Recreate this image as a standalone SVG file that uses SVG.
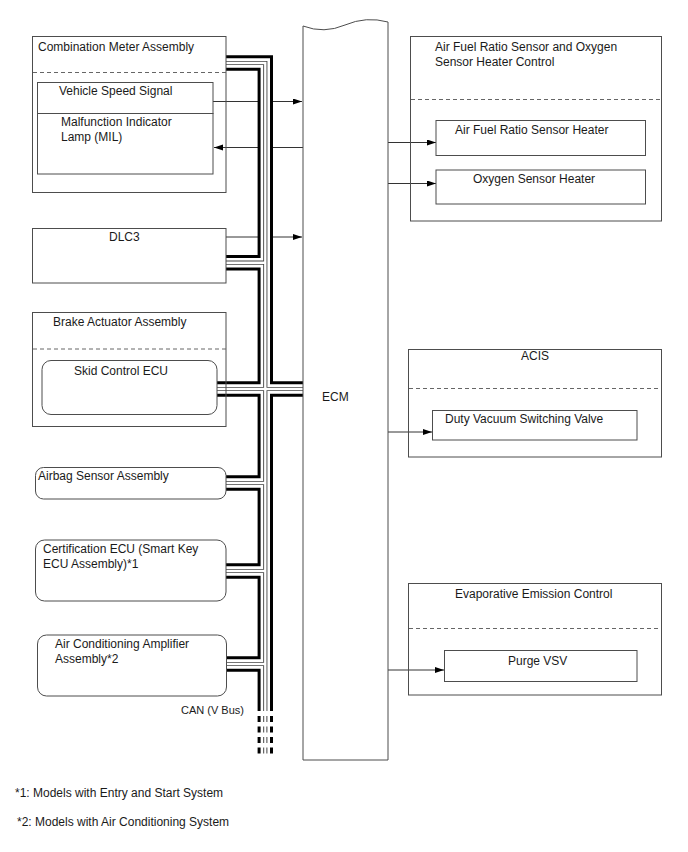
<svg xmlns="http://www.w3.org/2000/svg" width="688" height="852" viewBox="0 0 688 852">
<defs>
<style>
text{font-family:"Liberation Sans",Arial,sans-serif;font-size:12px;fill:#1a1a1a}
.box{fill:none;stroke:#4d4d4d;stroke-width:1}
.dash{fill:none;stroke:#666;stroke-width:1;stroke-dasharray:4 3}
.conn{fill:none;stroke:#333;stroke-width:1}
.busk{fill:none;stroke:#000;stroke-width:15.4;stroke-linejoin:miter}
.busw{fill:none;stroke:#fff;stroke-width:9.4;stroke-linejoin:miter}
.bustk{fill:none;stroke:#444;stroke-width:4.2;stroke-linejoin:miter}
.bustw{fill:none;stroke:#fff;stroke-width:2.4;stroke-linejoin:miter}
.bd{fill:none;stroke-dasharray:6 4.5}
</style>
<marker id="ah" markerUnits="userSpaceOnUse" markerWidth="10" markerHeight="7" refX="9" refY="3" orient="auto">
<path d="M0,0 L9,3 L0,6 z" fill="#000"/>
</marker>
</defs>
<rect width="688" height="852" fill="#fff"/>

<g id="connectors">
<path class="conn" d="M213,101.5 H302" marker-end="url(#ah)"/>
<path class="conn" d="M303,147.5 H214" marker-end="url(#ah)"/>
<path class="conn" d="M226,237 H302" marker-end="url(#ah)"/>
<path class="conn" d="M388,142.5 H436" marker-end="url(#ah)"/>
<path class="conn" d="M388,183.5 H436" marker-end="url(#ah)"/>
<path class="conn" d="M388,432 H432" marker-end="url(#ah)"/>
<path class="conn" d="M388,670 H444" marker-end="url(#ah)"/>
</g>

<g id="can-bus">
<path class="busk" d="M226,63 H265.3 V711 M226,262.7 H265.3 M217,389 H303 M226,483 H265.3 M226,571 H265.3 M226,664 H265.3"/>
<path class="busw" d="M226,63 H265.3 V711 M226,262.7 H265.3 M217,389 H303 M226,483 H265.3 M226,571 H265.3 M226,664 H265.3"/>
<path class="bustk" d="M226,63 H265.3 V711 M226,262.7 H265.3 M217,389 H303 M226,483 H265.3 M226,571 H265.3 M226,664 H265.3"/>
<path class="bustw" d="M226,63 H265.3 V711.5 M226,262.7 H265.3 M217,389 H303 M226,483 H265.3 M226,571 H265.3 M226,664 H265.3"/>
<path class="bd" stroke="#000" stroke-width="3" d="M259.1,716 V757 M271.5,716 V757"/>
<path class="bd" stroke="#444" stroke-width="1" d="M263.7,716 V757 M266.9,716 V757"/>
<text x="244" y="714" text-anchor="end" style="font-size:11px">CAN (V Bus)</text>
</g>

<g id="ecm">
<path class="box" fill="#fff" d="M303,26 Q324,34 345,25 T388,22 V760 H303 Z"/>
<text x="322" y="401">ECM</text>
</g>

<g id="combination-meter">
<rect class="box" x="32.5" y="36.5" width="193.5" height="156"/>
<line class="dash" x1="33" y1="72.5" x2="226" y2="72.5"/>
<text x="38" y="51">Combination Meter Assembly</text>
<rect class="box" x="37.5" y="82.5" width="175.5" height="31"/>
<rect class="box" x="37.5" y="113.5" width="175.5" height="60.5"/>
<text x="59" y="95">Vehicle Speed Signal</text>
<text x="61" y="126">Malfunction Indicator</text>
<text x="61" y="140.5">Lamp (MIL)</text>
</g>

<g id="dlc3">
<rect class="box" x="32.5" y="228.5" width="193.5" height="54.5"/>
<text x="109" y="241">DLC3</text>
</g>

<g id="brake-actuator">
<rect class="box" x="32.5" y="312.5" width="193.5" height="114"/>
<line class="dash" x1="33" y1="349" x2="226" y2="349"/>
<text x="53" y="326">Brake Actuator Assembly</text>
<rect class="box" x="42" y="360.5" width="175" height="54" rx="9"/>
<text x="74" y="375">Skid Control ECU</text>
</g>

<g id="airbag">
<rect class="box" x="35.5" y="467.5" width="190.5" height="31.5" rx="8"/>
<text x="38" y="480">Airbag Sensor Assembly</text>
</g>

<g id="certification-ecu">
<rect class="box" x="35.5" y="540" width="190.5" height="61" rx="9"/>
<text x="43" y="553">Certification ECU (Smart Key</text>
<text x="43" y="568">ECU Assembly)*1</text>
</g>

<g id="ac-amplifier">
<rect class="box" x="37.5" y="635" width="189" height="61" rx="9"/>
<text x="55" y="648">Air Conditioning Amplifier</text>
<text x="55" y="663">Assembly*2</text>
</g>

<g id="afr-o2-control">
<rect class="box" x="410.5" y="36.5" width="251" height="184.5"/>
<line class="dash" x1="411" y1="99.5" x2="661" y2="99.5"/>
<text x="435" y="51">Air Fuel Ratio Sensor and Oxygen</text>
<text x="435" y="66">Sensor Heater Control</text>
<rect class="box" x="436" y="120.5" width="209.5" height="35"/>
<text x="455" y="134">Air Fuel Ratio Sensor Heater</text>
<rect class="box" x="436" y="170" width="209.5" height="34"/>
<text x="473" y="183">Oxygen Sensor Heater</text>
</g>

<g id="acis">
<rect class="box" x="408.5" y="349.5" width="253" height="107.5"/>
<line class="dash" x1="409" y1="388.5" x2="661" y2="388.5"/>
<text x="521" y="360">ACIS</text>
<rect class="box" x="432.5" y="410.5" width="204.5" height="29.5"/>
<text x="445" y="423">Duty Vacuum Switching Valve</text>
</g>

<g id="evap">
<rect class="box" x="408.5" y="583.5" width="253" height="111.5"/>
<line class="dash" x1="409" y1="628.5" x2="661" y2="628.5"/>
<text x="455" y="598">Evaporative Emission Control</text>
<rect class="box" x="444.5" y="650.5" width="192.5" height="31"/>
<text x="508" y="665">Purge VSV</text>
</g>

<g id="notes">
<text x="15" y="797">*1: Models with Entry and Start System</text>
<text x="17" y="826">*2: Models with Air Conditioning System</text>
</g>
</svg>
